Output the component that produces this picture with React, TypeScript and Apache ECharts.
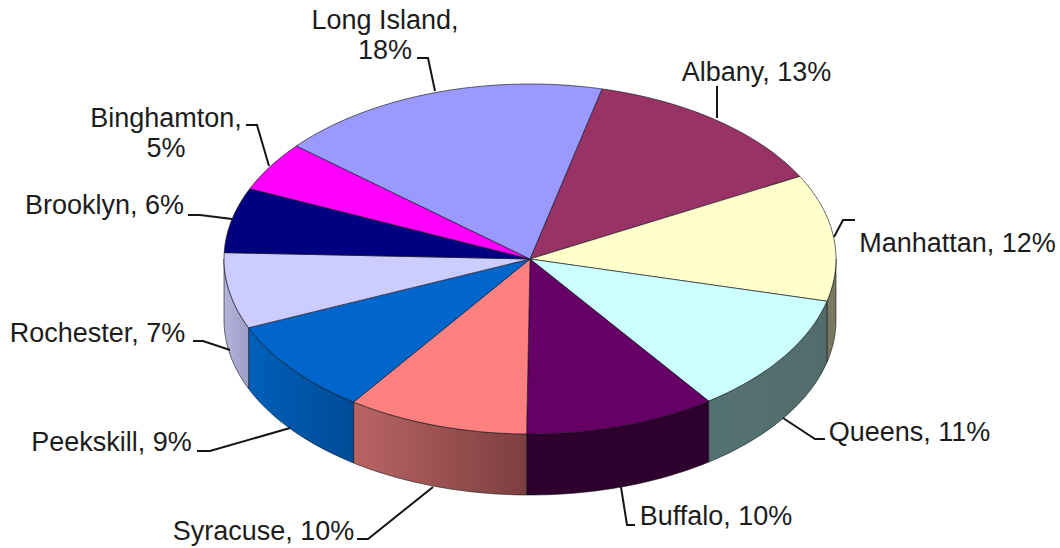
import React, { useEffect, useRef } from "react";
import * as echarts from "echarts";

const categories = ["Albany", "Manhattan", "Queens", "Buffalo", "Syracuse", "Peekskill", "Rochester", "Brooklyn", "Binghamton", "Long Island"];
const shares = [13.4, 11.7, 11.2, 10.1, 9.6, 8.8, 7.0, 6.0, 4.6, 17.6];

const topColors = ["#993366", "#FFFFCC", "#CCFFFF", "#660066", "#FF8080", "#0066CC", "#CCCCFF", "#000080", "#FF00FF", "#9999FF"];
const wallLeft = ["#4d1a33", "#7c7a63", "#557272", "#2e002e", "#ba6464", "#0060ba", "#b4b4dc", "#000040", "#800080", "#4d4d80"];
const wallRight = ["#4d1a33", "#7a7860", "#526c6c", "#2e002e", "#7c3f3f", "#004c96", "#9c9cc4", "#000040", "#800080", "#4d4d80"];

// layout of the hand-placed labels, in the order of categories
const labelCentres = [[756.5, 72], [957.5, 243], [909.5, 432], [716, 516], [263.5, 531], [111.5, 442], [97.5, 333], [104.5, 205], [166, 133], [385, 35]];
const labelBroken = [false, false, false, false, false, false, false, false, true, true];
const leaders = [
  [[717, 86], [717, 118]],
  [[855, 220], [843, 220], [834, 237]],
  [[825, 439], [815, 439], [783, 418]],
  [[635, 525], [627, 525], [621, 487]],
  [[357, 539], [368, 539], [433, 487]],
  [[197, 451], [210, 451], [290, 428]],
  [[193, 341], [203, 341], [230, 350]],
  [[188, 215], [200, 215], [232, 219]],
  [[246, 125], [257, 125], [269, 166]],
  [[417, 58], [428, 58], [435, 91]],
];

const CX = 530, CY = 259, RX = 306, RY = 175, DEPTH = 61, START = 13.6;
const total = shares.reduce((a, b) => a + b, 0);

const ellipsePoint = (deg: number, dy = 0) => {
  const r = (deg * Math.PI) / 180;
  return [CX + RX * Math.sin(r), CY - RY * Math.cos(r) + dy];
};

const arc = (from: number, to: number, dy = 0) => {
  const pts: number[][] = [];
  const n = Math.max(2, Math.ceil(Math.abs(to - from) / 1.5));
  for (let i = 0; i <= n; i++) pts.push(ellipsePoint(from + ((to - from) * i) / n, dy));
  return pts;
};

const renderItem = (params: any, api: any) => {
  const i = params.dataIndex;
  let before = 0;
  for (let k = 0; k < i; k++) before += shares[k];
  const a0 = START + (before / total) * 360;
  const a1 = a0 + (api.value(0) / total) * 360;
  const children: any[] = [];
  const w0 = Math.max(a0, 90), w1 = Math.min(a1, 270);
  if (w1 > w0) {
    const top = arc(w0, w1);
    const bottom = arc(w1, w0, DEPTH);
    children.push({
      type: "polygon",
      shape: { points: top.concat(bottom) },
      style: {
        fill: new echarts.graphic.LinearGradient(0, 0, 1, 0, [
          { offset: 0, color: wallLeft[i] },
          { offset: 1, color: wallRight[i] },
        ]),
        stroke: "rgba(20,20,20,0.75)",
        lineWidth: 0.8,
      },
    });
  }
  children.push({
    type: "polygon",
    shape: { points: [[CX, CY], ...arc(a0, a1)] },
    style: { fill: topColors[i], stroke: "rgba(20,20,30,0.8)", lineWidth: 0.8 },
  });
  return { type: "group", children };
};

const labelText = (i: number) => {
  const pct = Math.round(shares[i]) + "%";
  return categories[i] + (labelBroken[i] ? ",\n" : ", ") + pct;
};

export default function App() {
  const ref = useRef<HTMLDivElement>(null);
  useEffect(() => {
    const chart = echarts.init(ref.current!, undefined, { renderer: "svg" });
    chart.setOption({
      animation: false,
      backgroundColor: "#ffffff",
      series: [
        {
          type: "custom",
          coordinateSystem: "none",
          renderItem,
          data: shares.map((v, i) => ({ name: categories[i], value: [v] })),
          silent: true,
          z: 1,
        },
      ],
      graphic: {
        elements: [
          ...leaders.map((points) => ({
            type: "polyline",
            z: 5,
            silent: true,
            shape: { points },
            style: { stroke: "#151515", lineWidth: 2, fill: "none" },
          })),
          ...categories.map((_, i) => ({
            type: "text",
            z: 6,
            silent: true,
            x: labelCentres[i][0],
            y: labelCentres[i][1],
            style: {
              text: labelText(i),
              fill: "#1c1c1c",
              font: "27px 'Liberation Sans', Arial, sans-serif",
              lineHeight: 30,
              align: "center",
              verticalAlign: "middle",
            },
          })),
        ],
      },
    });
    return () => chart.dispose();
  }, []);
  return <div ref={ref} style={{ position: "absolute", left: 0, top: 0, width: 1060, height: 548 }} />;
}
